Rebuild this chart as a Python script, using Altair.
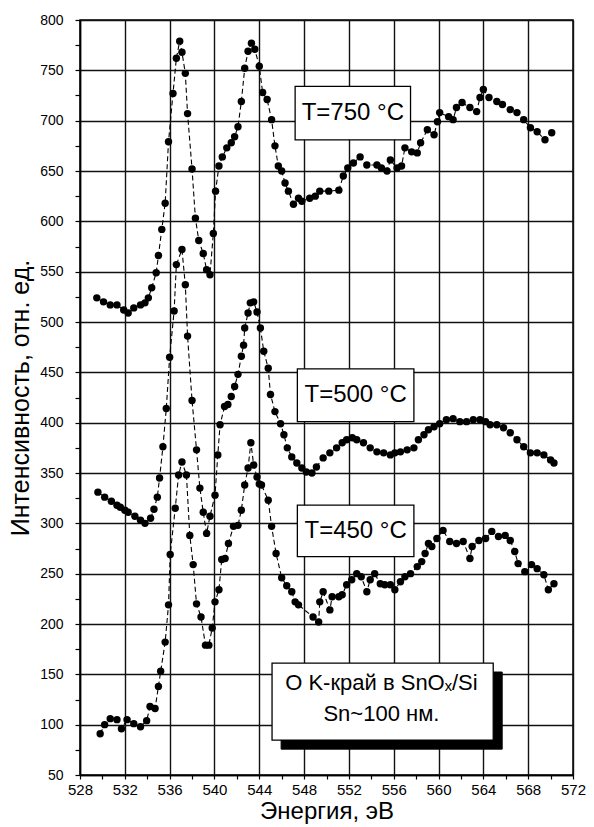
import altair as alt
import pandas as pd

# ---------------- data ----------------
energy_750 = [529.5, 530.1, 530.7, 531.3, 531.9, 532.3, 532.8, 533.4, 533.8, 534.1,
              534.4, 534.8, 535.0, 535.3, 535.6, 535.9, 536.3, 536.6, 536.9, 537.1,
              537.4, 537.6, 538.0, 538.3, 538.6, 539.0, 539.3, 539.6, 539.9, 540.1,
              540.4, 540.7, 541.1, 541.5, 541.8, 542.1, 542.4, 542.7, 543.0, 543.3,
              543.6, 544.0, 544.3, 544.7, 545.1, 545.4, 545.7, 546.0, 546.3, 546.6,
              547.05, 547.5, 547.8, 548.5, 549.0, 549.4, 550.2, 551.1, 551.5, 551.9,
              552.4, 553.0, 553.6, 554.5, 554.9, 555.4, 555.7, 556.3, 556.7, 557.0,
              557.6, 558.1, 558.4, 559.0, 559.6, 559.9, 560.1, 560.9, 561.3, 561.6,
              562.1, 562.8, 563.4, 563.7, 564.0, 564.5, 565.2, 565.7, 566.4, 567.0,
              567.6, 568.2, 568.8, 569.5, 570.1]
intensity_750 = [524, 520, 517, 517, 512, 509, 514, 517, 519, 524,
                 534, 549, 566, 592, 618, 679, 727, 762, 779, 768,
                 747, 707, 652, 603, 581, 568, 552, 547, 588, 630,
                 655, 664, 673, 678, 684, 694, 719, 752, 769, 777,
                 771, 754, 728, 721, 701, 675, 655, 650, 638, 630,
                 617, 623, 620, 623, 625, 630, 630, 631, 645, 653,
                 658, 664, 656, 656, 653, 650, 661, 653, 655, 673,
                 669, 668, 678, 691, 686, 699, 708, 704, 701, 713,
                 718, 713, 709, 723, 731, 723, 719, 716, 711, 708,
                 701, 693, 689, 681, 688]

energy_500 = [529.6, 530.2, 530.8, 531.3, 531.6, 532.0, 532.3, 532.9, 533.4, 533.8,
              534.3, 534.6, 534.9, 535.1, 535.4, 535.7, 536.0, 536.4, 536.6, 537.1,
              537.4, 537.6, 538.0, 538.4, 538.7, 539.0, 539.3, 539.6, 540.05, 540.3,
              540.5, 540.9, 541.2, 541.5, 541.8, 542.1, 542.4, 542.6, 542.7, 543.0,
              543.2, 543.5, 543.8, 544.1, 544.4, 544.8, 545.0, 545.4, 545.9, 546.2,
              546.5, 546.9, 547.35, 547.8, 548.2, 548.7, 549.1, 549.7, 550.3, 550.9,
              551.4, 551.8, 552.3, 552.7, 553.3, 553.9, 554.5, 555.1, 555.7, 556.1,
              556.6, 557.2, 557.8, 558.2, 558.7, 559.1, 559.6, 560.1, 560.7, 561.3,
              561.9, 562.5, 563.1, 563.7, 564.2, 564.6, 565.2, 565.8, 566.4, 567.0,
              567.6, 568.2, 568.8, 569.4, 570.0, 570.3]
intensity_500 = [331, 326, 322, 318, 316, 313, 311, 307, 303, 300,
                 305, 314, 326, 345, 376, 414, 465, 511, 557, 572,
                 537, 486, 422, 373, 335, 311, 290, 307, 328, 368,
                 398, 416, 418, 426, 436, 448, 466, 477, 494, 509,
                 519, 520, 510, 494, 471, 454, 428, 411, 399, 388,
                 375, 366, 360, 355, 351, 350, 356, 365, 370, 375,
                 380, 383, 385, 383, 380, 375, 371, 370, 368, 370,
                 371, 373, 375, 383, 388, 393, 396, 399, 403, 404,
                 401, 401, 403, 403, 401, 398, 398, 395, 390, 383,
                 376, 370, 370, 368, 363, 360]

energy_450 = [529.8, 530.2, 530.7, 531.3, 531.7, 532.2, 532.8, 533.4, 533.95, 534.25,
              534.7, 535.0, 535.2, 535.6, 535.9, 536.05, 536.5, 536.8, 537.1, 537.5,
              537.8, 538.1, 538.4, 538.8, 539.2, 539.5, 539.8, 540.05, 540.4, 540.65,
              540.95, 541.25, 541.7, 542.1, 542.4, 542.7, 543.0, 543.25, 543.5, 543.8,
              544.0, 544.2, 544.8, 545.1, 545.5, 546.0, 546.45, 546.9, 547.2, 547.5,
              548.8, 549.3, 549.4, 549.7, 550.3, 550.5, 551.1, 551.4, 551.8, 552.25,
              552.7, 553.1, 553.6, 553.9, 554.3, 554.8, 555.2, 555.7, 556.1, 556.6,
              557.0, 557.5, 558.1, 558.5, 558.8, 559.1, 559.4, 559.85, 560.4, 561.0,
              561.6, 562.2, 562.8, 563.0, 563.6, 564.2, 564.75, 565.35, 565.95, 566.4,
              566.8, 567.1, 567.7, 568.3, 568.8, 569.4, 569.8, 570.3]
intensity_450 = [91, 100, 106, 105, 96, 105, 101, 98, 104, 118,
                 116, 138, 153, 182, 219, 269, 315, 348, 361, 348,
                 288, 259, 220, 207, 179, 179, 196, 222, 234, 264,
                 265, 280, 297, 298, 313, 338, 355, 380, 358, 346,
                 339, 338, 323, 297, 270, 246, 238, 232, 222, 219,
                 207, 202, 222, 232, 214, 227, 227, 229, 239, 244,
                 250, 247, 232, 244, 250, 240, 239, 239, 234, 242,
                 247, 250, 257, 262, 270, 280, 277, 285, 293, 282,
                 280, 282, 265, 277, 283, 285, 292, 287, 288, 283,
                 272, 260, 252, 259, 255, 249, 234, 240]

series_names = ["T=750", "T=500", "T=450"]

x_ticks = list(range(528, 573, 2))
y_ticks = list(range(50, 801, 25))

# annotation labels
box_labels = ["T=750 °C", "T=500 °C", "T=450 °C"]
note_lines = ["O K-край в SnOₓ/Si", "Sn~100 нм."]

# ---------------- build tables ----------------
frames = []
for name, e, i in zip(series_names,
                      [energy_750, energy_500, energy_450],
                      [intensity_750, intensity_500, intensity_450]):
    frames.append(pd.DataFrame({"series": name, "energy": e, "intensity": i}))
df = pd.concat(frames, ignore_index=True)

boxes = pd.DataFrame({
    "label": box_labels,
    "x0": [547.2, 547.4, 547.4], "x1": [557.5, 557.8, 557.8],
    "y0": [681, 401, 267], "y1": [734, 453.5, 318],
    "tx": [552.35, 552.6, 552.6], "ty": [707.5, 427, 292.5],
})
note_box = pd.DataFrame({"x0": [545.14], "x1": [564.88], "y0": [84.7], "y1": [161.2]})
note_shadow = pd.DataFrame({"x0": [545.95], "x1": [565.68], "y0": [75.7], "y1": [152.3]})
note_text = pd.DataFrame({"text": note_lines, "tx": [554.9, 554.9], "ty": [141.3, 110.5]})

FONT = "Liberation Sans"
X_TITLE = "Энергия, эВ"
Y_TITLE = "Интенсивность, отн. ед."

x_scale = alt.Scale(domain=[528, 572], nice=False, zero=False)
y_scale = alt.Scale(domain=[50, 800], nice=False, zero=False)

x_axis = alt.Axis(
    values=x_ticks,
    labelExpr="datum.value % 4 === 0 ? datum.label : ''",
    gridOpacity={"condition": {"test": "datum.value % 4 === 0", "value": 1}, "value": 0},
    grid=True, gridColor="#111111", gridWidth=1.4,
    tickSize=4, tickColor="black", tickWidth=1.2,
    labelFontSize=15, labelFont=FONT, labelColor="black", labelPadding=3,
    titleFontSize=24, titleFont=FONT, titleFontWeight="normal", titleColor="black",
    titlePadding=2,
    domainColor="black", domainWidth=1.5, labelFlush=False,
)
y_axis = alt.Axis(
    values=y_ticks,
    labelExpr="datum.value % 50 === 0 ? datum.label : ''",
    gridOpacity={"condition": {"test": "datum.value % 50 === 0", "value": 1}, "value": 0},
    grid=True, gridColor="#111111", gridWidth=1.4,
    tickSize=5, tickColor="black", tickWidth=1.2,
    labelFontSize=14, labelFont=FONT, labelColor="black", labelPadding=12,
    titleFontSize=25, titleFont=FONT, titleFontWeight="normal", titleColor="black",
    titlePadding=6,
    domainColor="black", domainWidth=1.5, labelFlush=False,
)


def X(field):
    return alt.X(field, title=X_TITLE, scale=x_scale, axis=x_axis)


def Y(field):
    return alt.Y(field, title=Y_TITLE, scale=y_scale, axis=y_axis)


base = alt.Chart(df)
lines = base.mark_line(color="black", strokeWidth=1.1, strokeDash=[5, 3]).encode(
    x=X("energy:Q"), y=Y("intensity:Q"), detail="series:N", order="energy:Q"
)
points = base.mark_circle(size=55, color="black", opacity=1).encode(
    x=X("energy:Q"), y=Y("intensity:Q"), detail="series:N"
)

box_rects = alt.Chart(boxes).mark_rect(fill="white", stroke="black", strokeWidth=1.3).encode(
    x=X("x0:Q"), x2="x1:Q", y=Y("y0:Q"), y2="y1:Q"
)
box_texts = alt.Chart(boxes).mark_text(fontSize=24, font=FONT, color="black",
                                       align="center", baseline="middle").encode(
    x=X("tx:Q"), y=Y("ty:Q"), text="label:N"
)
shadow = alt.Chart(note_shadow).mark_rect(fill="black", stroke="black").encode(
    x=X("x0:Q"), x2="x1:Q", y=Y("y0:Q"), y2="y1:Q"
)
note_rect = alt.Chart(note_box).mark_rect(fill="white", stroke="black", strokeWidth=1.3).encode(
    x=X("x0:Q"), x2="x1:Q", y=Y("y0:Q"), y2="y1:Q"
)
note_txt = alt.Chart(note_text).mark_text(fontSize=22, font=FONT, color="black",
                                          align="center", baseline="middle").encode(
    x=X("tx:Q"), y=Y("ty:Q"), text="text:N"
)

chart = alt.layer(lines, points, box_rects, box_texts, shadow, note_rect, note_txt).properties(
    width=493, height=755,
    autosize=alt.AutoSizeParams(type="none"),
    padding={"left": 80, "top": 20, "right": 21, "bottom": 52},
    background="white",
).configure_view(stroke="black", strokeWidth=1.5)

chart.save("out.html", embed_options={"renderer": "svg", "actions": False})
